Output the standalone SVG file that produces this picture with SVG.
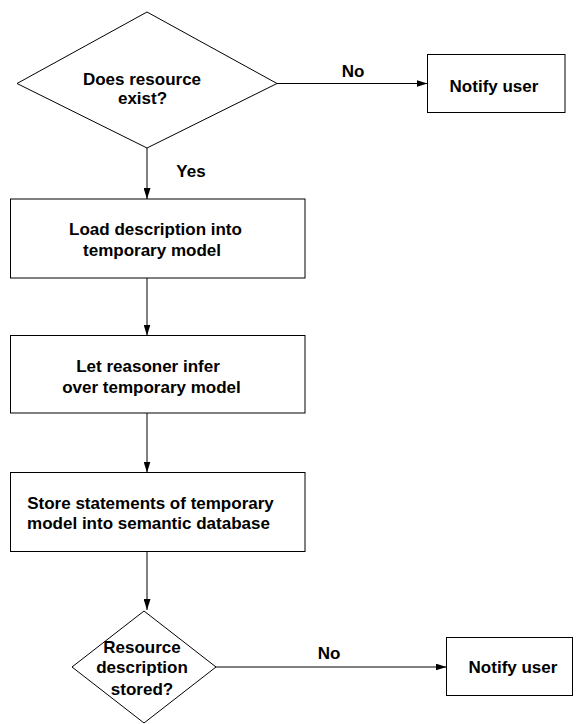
<svg xmlns="http://www.w3.org/2000/svg" width="576" height="724" viewBox="0 0 576 724">
<style>
.shape{fill:#fff;stroke:#000;stroke-width:1}
.t{font-family:"Liberation Sans",Arial,sans-serif;font-weight:bold;font-size:17px;fill:#000;text-anchor:middle}
.c{stroke:#000;stroke-width:1;fill:none;marker-end:url(#ah)}
</style>
<defs>
<marker id="ah" markerUnits="userSpaceOnUse" markerWidth="11" markerHeight="7" refX="11" refY="3.5" orient="auto">
<path d="M0,0 L11,3.5 L0,7 z" fill="#000"/>
</marker>
</defs>
<rect width="576" height="724" fill="#fff"/>
<g id="connectors">
<line class="c" x1="147" y1="148" x2="147" y2="199"/>
<line class="c" x1="147" y1="278" x2="147" y2="335.5"/>
<line class="c" x1="147" y1="413" x2="147" y2="472.5"/>
<line class="c" x1="147" y1="552" x2="147" y2="610"/>
<line class="c" x1="277" y1="83.5" x2="427.5" y2="83.5"/>
<line class="c" x1="216" y1="667" x2="446.5" y2="667"/>
<text class="t" x="191" y="177">Yes</text>
<text class="t" x="353" y="77">No</text>
<text class="t" x="329" y="659">No</text>
</g>
<g id="exists">
<polygon class="shape" points="147,12 277,83.5 147,148 17,83.5"/>
<text class="t" x="142" y="85">Does resource</text>
<text class="t" x="142.5" y="104">exist?</text>
</g>
<g id="notify1">
<rect class="shape" x="427.5" y="54.5" width="137.5" height="58"/>
<text class="t" x="494" y="92">Notify user</text>
</g>
<g id="load">
<rect class="shape" x="10.5" y="199" width="294.5" height="79"/>
<text class="t" x="155.5" y="235">Load description into</text>
<text class="t" x="152" y="256">temporary model</text>
</g>
<g id="reason">
<rect class="shape" x="10.5" y="335.5" width="294.5" height="77.5"/>
<text class="t" x="148" y="372">Let reasoner infer</text>
<text class="t" x="151.5" y="393">over temporary model</text>
</g>
<g id="store">
<rect class="shape" x="10.5" y="472.5" width="294.5" height="79"/>
<text class="t" x="150.5" y="509">Store statements of temporary</text>
<text class="t" x="148.5" y="529">model into semantic database</text>
</g>
<g id="stored">
<polygon class="shape" points="144,611 216,667 144,723 72,667"/>
<text class="t" x="142" y="652.5">Resource</text>
<text class="t" x="142" y="673">description</text>
<text class="t" x="142" y="695">stored?</text>
</g>
<g id="notify2">
<rect class="shape" x="446.5" y="637.5" width="126" height="58"/>
<text class="t" x="513" y="673">Notify user</text>
</g>
</svg>
